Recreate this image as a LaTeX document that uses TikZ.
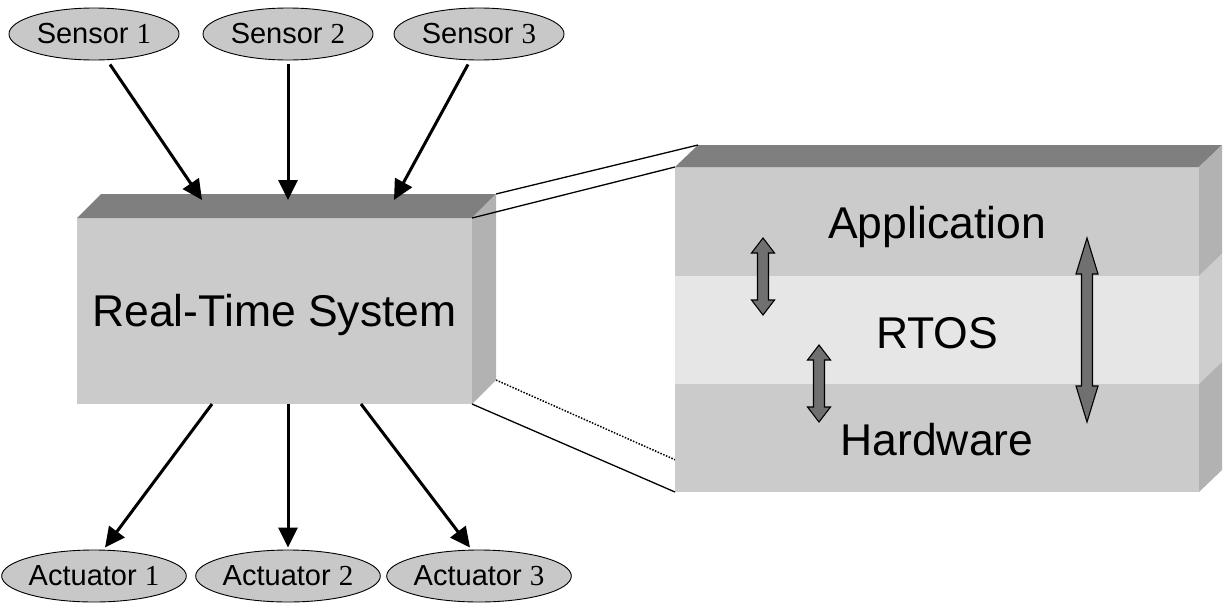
\documentclass[tikz,border=0pt]{standalone}
\usepackage{fontspec}
\setmainfont{Liberation Sans}
\newfontfamily\digitfont{Liberation Serif}
\usetikzlibrary{arrows.meta,calc,shapes.geometric,backgrounds}

\definecolor{ellfill}{HTML}{C8C8C8}
\definecolor{frontgray}{HTML}{CBCBCB}
\definecolor{topgray}{HTML}{7F7F7F}
\definecolor{sidegray}{HTML}{B2B2B2}
\definecolor{midfront}{HTML}{E6E6E6}
\definecolor{midside}{HTML}{CDCDCD}
\definecolor{arrowgray}{HTML}{707070}

\tikzset{
  io/.style={ellipse, draw=black, line width=0.9pt, fill=ellfill,
    minimum width=170pt, minimum height=52pt, inner sep=0pt,
    font=\fontsize{29}{34}\selectfont},
  face/.style={rectangle, inner sep=0pt, outer sep=0pt,
    text height=31.9pt, text depth=0pt,
    font=\fontsize{44.5}{50}\selectfont},
  flow/.style={line width=3pt, -{Triangle[length=20pt,width=19pt]}},
  link/.style={line width=1.3pt},
  hiddenlink/.style={line width=1.5pt, dash pattern=on 1.5pt off 1.5pt},
  blockarrow/.style={draw=black, line width=1.1pt, fill=arrowgray, line join=miter},
  pics/updown/.style n args={3}{code={
    % #1 half length, #2 head length, #3 head half width
    \draw[blockarrow] (0,-#1) -- (#3,-#1+#2) -- (5.5,-#1+#2) -- (5.5,#1-#2)
      -- (#3,#1-#2) -- (0,#1) -- (-#3,#1-#2) -- (-5.5,#1-#2)
      -- (-5.5,-#1+#2) -- (-#3,-#1+#2) -- cycle;
  }}
}

\begin{document}
\begin{tikzpicture}[x=1pt,y=-1pt]
\useasboundingbox (0,0) rectangle (1223,603);

% ---------- the system block ----------
\node[face, fill=frontgray, minimum width=395pt, minimum height=186pt]
  (rts) at (274.5,311) {Real-Time System};
\fill[topgray] (rts.north west) -- ++(24,-24) -- ($(rts.north east)+(24,-24)$)
  -- (rts.north east) -- cycle;
\fill[sidegray] (rts.north east) -- ++(24,-24) -- ($(rts.south east)+(24,-24)$)
  -- (rts.south east) -- cycle;

% ---------- layered view ----------
\node[face, text height=33.9pt, fill=frontgray, minimum width=524pt, minimum height=109pt]
  (app) at (937,221.5) {Application};
\node[face, text height=36.9pt, fill=midfront, minimum width=524pt, minimum height=108pt]
  (rtos) at (937,330) {RTOS};
\node[face, text height=35.9pt, fill=frontgray, minimum width=524pt, minimum height=108pt]
  (hw) at (937,438) {Hardware};
\fill[topgray] (app.north west) -- ++(23,-22) -- ($(app.north east)+(23,-22)$)
  -- (app.north east) -- cycle;
\fill[sidegray] (app.north east) -- ++(23,-22) -- ($(app.south east)+(23,-22)$)
  -- (app.south east) -- cycle;
\fill[midside] (rtos.north east) -- ++(23,-22) -- ($(rtos.south east)+(23,-22)$)
  -- (rtos.south east) -- cycle;
\fill[sidegray] (hw.north east) -- ++(23,-22) -- ($(hw.south east)+(23,-22)$)
  -- (hw.south east) -- cycle;

% exploded-view guide lines
\draw[link] ($(rts.north east)+(24,-24)$) -- ($(app.north west)+(23,-22)$);
\draw[link] (rts.north east) -- (app.north west);
\draw[link] (rts.south east) -- (hw.south west);
\begin{scope}[on background layer]
  \draw[hiddenlink] ($(rts.south east)+(24,-24)$) -- ($(hw.south west)+(23,-22)$);
\end{scope}

% interaction arrows between layers
\pic at (763,276.5) {updown={38.5}{15}{11.5}};
\pic at (819,383.5) {updown={38.5}{15}{11.5}};
\pic at (1087,330) {updown={92}{36}{11}};

% ---------- sensors and actuators ----------
\node[io] (s1) at (94,34)  {Sensor {\digitfont 1}};
\node[io] (s2) at (288,34) {Sensor {\digitfont 2}};
\node[io] (s3) at (479,34) {Sensor {\digitfont 3}};
\node[io] (a1) at (94,576)  {Actuator {\digitfont 1}};
\node[io] (a2) at (288,576) {Actuator {\digitfont 2}};
\node[io] (a3) at (479,576) {Actuator {\digitfont 3}};

\draw[flow] ($(s1.south)+(16,4)$)  -- ($(rts.north west)+(125,-18)$);
\draw[flow] ($(s2.south)+(0,4)$)   -- ($(rts.north west)+(211,-18)$);
\draw[flow] ($(s3.south)+(-11,4)$) -- ($(rts.north west)+(317,-18)$);

\draw[flow] ($(rts.south west)+(135,0)$) -- ($(a1.north)+(11,-2)$);
\draw[flow] ($(rts.south west)+(211,0)$) -- ($(a2.north)+(0,-2)$);
\draw[flow] ($(rts.south west)+(284,0)$) -- ($(a3.north)+(-9,-2)$);
\end{tikzpicture}
\end{document}
